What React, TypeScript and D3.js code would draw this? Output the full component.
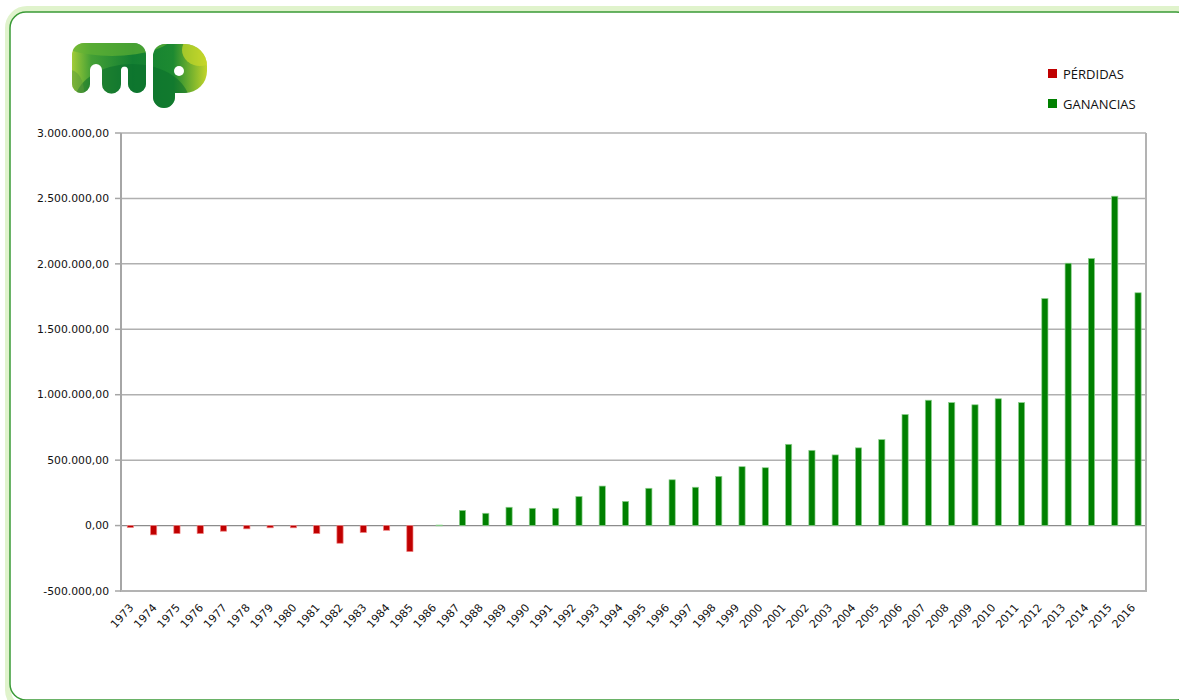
import React from "react";
import * as d3 from "d3";

// años y series
const years = d3.range(1973, 2017).map(String);
const perdidas = [
  -15000, -71000, -61000, -61000, -43000, -25000, -17000, -17000, -61000,
  -135000, -53000, -36000, -199000, 0, 0, 0, 0, 0, 0, 0, 0, 0, 0, 0, 0, 0, 0,
  0, 0, 0, 0, 0, 0, 0, 0, 0, 0, 0, 0, 0, 0, 0, 0, 0,
];
const ganancias = [
  0, 0, 0, 0, 0, 0, 0, 0, 0, 0, 0, 0, 0, 4000, 116000, 94000, 140000, 132000,
  132000, 222000, 302000, 185000, 285000, 350000, 293000, 376000, 450000,
  442000, 621000, 575000, 540000, 594000, 657000, 849000, 958000, 940000,
  923000, 969000, 940000, 1735000, 2005000, 2041000, 2517000, 1779000,
];
const seriesNames = ["PÉRDIDAS", "GANANCIAS"];
const seriesColors = ["#c00000", "#008000"];
const seriesEdges = ["#f08080", "#8fd08f"];

const W = 1179;
const H = 700;
const left = 121;
const right = 1146;
const top = 133;
const bottom = 591;

const fmt = d3
  .formatLocale({
    decimal: ",",
    thousands: ".",
    grouping: [3],
    currency: ["", ""],
    minus: "-",
  })
  .format(",.2f");

const Logo = () => {
  const mPath =
    "M 84 43 H 134 A 12 12 0 0 1 146 55 V 84 A 9 9 0 0 1 128 84 V 70 A 3.5 3.5 0 0 0 121 70 V 84 A 9.5 9.5 0 0 1 102 84 V 70 A 6 6 0 0 0 90 70 V 84 A 9 9 0 0 1 72 84 V 55 A 12 12 0 0 1 84 43 Z";
  const pPath =
    "M 165 44 H 185 A 22 22 0 0 1 207 66 V 71 A 22 22 0 0 1 185 93 H 175 V 97 A 11 11 0 0 1 153 97 V 56 A 12 12 0 0 1 165 44 Z";
  return (
    <g>
      <defs>
        <linearGradient id="mpGrad" gradientUnits="userSpaceOnUse" x1="72" y1="0" x2="207" y2="0">
          <stop offset="0" stopColor="#a2cc38" />
          <stop offset="0.14" stopColor="#44a035" />
          <stop offset="0.45" stopColor="#137f32" />
          <stop offset="0.75" stopColor="#1d8a31" />
          <stop offset="1" stopColor="#c2d42b" />
        </linearGradient>
        <clipPath id="mpClip">
          <path d={mPath} />
          <path d={pPath} />
        </clipPath>
      </defs>
      <path d={mPath} fill="url(#mpGrad)" />
      <path d={pPath} fill="url(#mpGrad)" />
      <g clipPath="url(#mpClip)">
        <ellipse cx={112} cy={34} rx={62} ry={22} fill="#63b234" opacity={0.65} />
        <ellipse cx={132} cy={104} rx={58} ry={40} fill="#0a6d2c" opacity={0.55} />
        <ellipse cx={200} cy={50} rx={18} ry={16} fill="#c9d92a" opacity={0.7} />
        <ellipse cx={70} cy={92} rx={14} ry={22} fill="#5a9a3a" opacity={0.5} />
      </g>
      <circle cx={179} cy={71} r={5} fill="#fff" />
    </g>
  );
};

const App = () => {
  const x = d3.scaleBand<string>().domain(years).range([left, right]).padding(0);
  const bw = x.bandwidth();
  const xs = d3
    .scaleBand<string>()
    .domain(seriesNames)
    .range([bw / 2 - 5.3, bw / 2 + 6.7]);
  const y = d3.scaleLinear().domain([-500000, 3000000]).range([bottom, top]);
  const ticks = y.ticks(7);
  const barW = 6.2;

  const series = [perdidas, ganancias];

  return (
    <svg
      width={W}
      height={H}
      style={{ position: "absolute", left: 0, top: 0, background: "#fff" }}
    >
      {/* marco */}
      <rect x={8} y={9} width={1190} height={700} rx={19} fill="none" stroke="#e0f3cc" strokeWidth={6} />
      <rect x={10} y={12} width={1182} height={688} rx={16} fill="#fff" stroke="#3a9a36" strokeWidth={1.5} />

      <Logo />

      {/* rejilla */}
      {ticks.map((t) => (
        <g key={t}>
          <line
            x1={left}
            x2={right}
            y1={y(t)}
            y2={y(t)}
            stroke={t === 0 ? "#8c8c8c" : "#b0b0b0"}
            strokeWidth={t === 0 ? 1.3 : 1.5}
          />
          <line x1={left - 6} x2={left} y1={y(t)} y2={y(t)} stroke="#a6a6a6" strokeWidth={1.5} />
          <text
            x={109}
            y={y(t)}
            dy="0.35em"
            textAnchor="end"
            fontFamily="DejaVu Sans"
            fontSize={10.8}
            fill="#111"
          >
            {fmt(t)}
          </text>
        </g>
      ))}

      {/* barras */}
      {series.map((vals, si) =>
        vals.map((v, i) => {
          if (!v) return null;
          const cx = (x(years[i]) as number) + (xs(seriesNames[si]) as number) + xs.bandwidth() / 2;
          const y0 = y(Math.max(0, v));
          const y1 = y(Math.min(0, v));
          return (
            <rect
              key={si + "-" + i}
              x={cx - barW / 2}
              y={y0}
              width={barW}
              height={Math.max(0.8, y1 - y0)}
              fill={seriesColors[si]}
              stroke={seriesEdges[si]}
              strokeWidth={0.7}
            />
          );
        })
      )}

      {/* ejes */}
      <line x1={left} x2={left} y1={top} y2={bottom + 1} stroke="#a6a6a6" strokeWidth={2} />
      <line x1={right} x2={right} y1={top} y2={bottom + 1} stroke="#b3b3b3" strokeWidth={2} />
      <line x1={left} x2={right + 1} y1={bottom} y2={bottom} stroke="#b3b3b3" strokeWidth={2} />

      {/* etiquetas de años */}
      {years.map((yr) => {
        const cx = (x(yr) as number) + bw / 2;
        return (
          <text
            key={yr}
            transform={`translate(${cx + 1.5},${608}) rotate(-48)`}
            textAnchor="end"
            fontFamily="DejaVu Sans"
            fontSize={11}
            fill="#111"
          >
            {yr}
          </text>
        );
      })}

      {/* leyenda */}
      {seriesNames.map((n, i) => (
        <g key={n} transform={`translate(1048,${69 + i * 30})`}>
          <rect width={9} height={9} fill={seriesColors[i]} />
          <text x={15} y={9.5} fontFamily="Open Sans" fontSize={13} fill="#111">
            {n}
          </text>
        </g>
      ))}
    </svg>
  );
};

export default App;
